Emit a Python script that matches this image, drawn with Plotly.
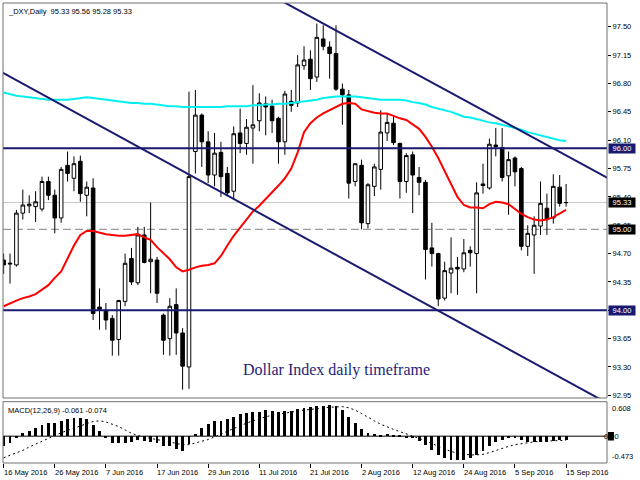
import plotly.graph_objects as go

# ---------------- data ----------------
bar_index = list(range(89))
date_labels = ["16 May 2016", "26 May 2016", "7 Jun 2016", "17 Jun 2016", "29 Jun 2016",
               "11 Jul 2016", "21 Jul 2016", "2 Aug 2016", "12 Aug 2016", "24 Aug 2016",
               "5 Sep 2016", "15 Sep 2016"]
date_label_bars = [0, 8, 16, 24, 32, 40, 48, 56, 64, 72, 80, 88]

opens = [94.62, 94.57, 94.56, 95.20, 95.29, 95.28, 95.25, 95.59, 95.42, 95.14,
         95.79, 95.63, 95.84, 95.42, 95.51, 94.04, 94.00, 93.90, 93.64, 94.11,
         94.64, 94.34, 94.93, 94.60, 94.62, 93.94, 93.65, 94.07, 93.72, 93.30,
         95.96, 96.41, 96.08, 95.67, 95.95, 95.69, 95.47, 96.19, 96.06, 96.25,
         96.34, 96.55, 96.52, 96.37, 96.08, 96.58, 96.56, 97.02, 97.10, 96.88,
         97.35, 97.25, 97.17, 96.73, 96.66, 95.59, 95.79, 95.07, 95.53, 95.74,
         96.19, 96.31, 96.06, 95.59, 95.92, 95.64, 95.58, 94.77, 94.70, 94.15,
         94.46, 94.53, 94.51, 94.74, 94.70, 95.56, 95.51, 96.04, 96.01, 95.66,
         95.88, 95.75, 94.79, 94.93, 95.04, 95.26, 95.14, 95.52, 95.33]
highs = [94.70, 94.70, 95.24, 95.49, 95.42, 95.47, 95.65, 95.65, 95.49, 95.77,
         95.96, 95.90, 95.91, 95.59, 95.63, 94.27, 94.09, 93.94, 94.13, 94.70,
         94.77, 95.03, 95.03, 95.33, 94.66, 93.96, 94.15, 94.27, 93.78, 96.70,
         96.72, 96.43, 96.21, 96.19, 96.08, 95.77, 96.27, 96.49, 96.36, 96.78,
         96.68, 96.64, 96.60, 96.39, 96.71, 96.72, 97.15, 97.26, 97.21, 97.54,
         97.52, 97.32, 97.52, 96.80, 96.72, 95.81, 95.86, 95.57, 95.81, 96.47,
         96.43, 96.39, 96.07, 95.94, 95.96, 95.77, 95.61, 95.08, 94.71, 94.60,
         94.90, 94.66, 94.88, 94.79, 95.58, 95.81, 96.12, 96.25, 96.25, 95.96,
         95.90, 95.77, 95.05, 95.16, 95.59, 95.44, 95.68, 95.67, 95.56]
lows = [94.45, 94.33, 94.54, 95.12, 95.20, 95.09, 95.22, 95.36, 94.95, 95.08,
        95.59, 95.47, 95.34, 95.16, 93.88, 93.76, 93.76, 93.44, 93.44, 94.05,
        94.31, 94.31, 94.58, 94.21, 94.09, 93.45, 93.44, 93.45, 93.02, 93.03,
        95.69, 95.77, 95.57, 95.53, 95.40, 95.42, 95.37, 95.94, 95.92, 95.81,
        96.21, 96.16, 96.19, 95.81, 95.92, 96.45, 96.51, 96.97, 96.72, 96.82,
        97.21, 96.86, 96.71, 96.29, 95.38, 95.53, 95.00, 95.01, 95.41, 95.49,
        96.09, 96.04, 95.38, 95.45, 95.20, 95.42, 94.38, 94.54, 94.05, 94.12,
        94.21, 94.19, 94.47, 94.54, 94.21, 95.44, 95.49, 95.90, 95.59, 95.18,
        95.53, 94.74, 94.67, 94.45, 94.93, 94.93, 95.07, 95.28, 95.28]
closes = [94.56, 94.58, 95.20, 95.30, 95.31, 95.34, 95.59, 95.42, 95.14, 95.74,
          95.69, 95.81, 95.44, 95.52, 93.96, 94.01, 93.88, 93.63, 94.12, 94.58,
          94.35, 94.93, 94.59, 94.63, 94.21, 93.63, 94.05, 93.72, 93.31, 95.65,
          96.41, 96.08, 95.67, 95.94, 95.65, 95.45, 96.18, 96.06, 96.26, 96.29,
          96.56, 96.51, 96.34, 96.08, 96.67, 96.53, 97.03, 97.09, 96.86, 97.37,
          97.26, 97.17, 96.73, 96.66, 95.57, 95.81, 95.08, 95.55, 95.77, 96.20,
          96.32, 96.07, 95.59, 95.91, 95.67, 95.58, 94.75, 94.70, 94.14, 94.49,
          94.52, 94.51, 94.71, 94.71, 95.45, 95.54, 96.05, 96.02, 95.64, 95.86,
          95.71, 94.79, 94.95, 95.05, 95.32, 95.12, 95.53, 95.32, 95.33]

ma_red = [94.05, 94.09, 94.12, 94.15, 94.17, 94.20, 94.25, 94.31, 94.40, 94.48,
          94.64, 94.80, 94.93, 94.98, 94.98, 94.96, 94.94, 94.93, 94.92, 94.92,
          94.93, 94.94, 94.90, 94.87, 94.78, 94.70, 94.63, 94.53, 94.48, 94.50,
          94.53, 94.55, 94.56, 94.58, 94.67, 94.80, 94.92, 95.02, 95.12, 95.22,
          95.29, 95.37, 95.46, 95.54, 95.63, 95.75, 95.95, 96.20, 96.31, 96.38,
          96.43, 96.47, 96.52, 96.55, 96.56, 96.55, 96.48, 96.46, 96.44, 96.43,
          96.43, 96.40, 96.37, 96.35, 96.30, 96.24, 96.14, 96.02, 95.88, 95.72,
          95.56, 95.40, 95.30, 95.27, 95.27, 95.26, 95.31, 95.34, 95.33, 95.31,
          95.25, 95.19, 95.15, 95.12, 95.11, 95.12, 95.15, 95.19, 95.24]
ma_cyan = [96.69, 96.67, 96.65, 96.64, 96.63, 96.62, 96.61, 96.60, 96.60, 96.60,
           96.60, 96.61, 96.62, 96.63, 96.62, 96.61, 96.60, 96.59, 96.58, 96.57,
           96.56, 96.56, 96.55, 96.55, 96.54, 96.53, 96.52, 96.52, 96.51, 96.51,
           96.51, 96.51, 96.51, 96.51, 96.51, 96.52, 96.52, 96.52, 96.52, 96.53,
           96.53, 96.54, 96.54, 96.55, 96.55, 96.56, 96.57, 96.58, 96.59, 96.60,
           96.62, 96.63, 96.64, 96.64, 96.64, 96.64, 96.63, 96.62, 96.61, 96.60,
           96.60, 96.60, 96.60, 96.59, 96.57, 96.56, 96.54, 96.51, 96.49, 96.47,
           96.45, 96.42, 96.39, 96.38, 96.36, 96.34, 96.32, 96.31, 96.29, 96.27,
           96.25, 96.23, 96.20, 96.18, 96.16, 96.14, 96.12, 96.10, 96.09]

macd_main = [-0.16, -0.12, -0.03, 0.06, 0.105, 0.15, 0.21, 0.24, 0.24, 0.28,
             0.31, 0.33, 0.33, 0.31, 0.21, 0.09, -0.03, -0.12, -0.12, -0.12,
             -0.105, -0.07, -0.08, -0.09, -0.12, -0.16, -0.175, -0.22, -0.26, -0.13,
             0.05, 0.15, 0.22, 0.27, 0.28, 0.31, 0.35, 0.40, 0.415, 0.43,
             0.44, 0.47, 0.455, 0.44, 0.455, 0.455, 0.485, 0.50, 0.515, 0.53,
             0.54, 0.555, 0.53, 0.47, 0.34, 0.23, 0.13, 0.06, 0.04, 0.03,
             0.04, 0.03, 0.02, -0.01, -0.03, -0.075, -0.145, -0.235, -0.32, -0.38,
             -0.41, -0.42, -0.41, -0.38, -0.32, -0.26, -0.165, -0.09, -0.06, -0.02,
             -0.03, -0.07, -0.09, -0.09, -0.09, -0.10, -0.08, -0.07, -0.061]
macd_signal = [-0.38, -0.34, -0.30, -0.25, -0.19, -0.14, -0.08, -0.03, 0.02, 0.06,
               0.10, 0.14, 0.17, 0.22, 0.26, 0.27, 0.25, 0.21, 0.17, 0.11,
               0.05, 0.01, -0.02, -0.04, -0.06, -0.08, -0.11, -0.13, -0.15, -0.15,
               -0.12, -0.09, -0.06, -0.01, 0.04, 0.09, 0.14, 0.19, 0.23, 0.27,
               0.31, 0.34, 0.37, 0.39, 0.41, 0.43, 0.44, 0.46, 0.47, 0.49,
               0.50, 0.51, 0.52, 0.52, 0.50, 0.46, 0.40, 0.33, 0.27, 0.21,
               0.16, 0.12, 0.08, 0.04, 0.01, -0.03, -0.08, -0.13, -0.18, -0.23,
               -0.27, -0.30, -0.32, -0.33, -0.33, -0.32, -0.29, -0.25, -0.21, -0.18,
               -0.15, -0.13, -0.11, -0.10, -0.09, -0.085, -0.08, -0.077, -0.074]

trend_upper_x = [43, 96]
trend_upper_y = [97.84, 95.57]
trend_lower_x = [-1, 95]
trend_lower_y = [96.97, 92.83]

level_solid = [96.00, 94.00]
level_dashed = 95.00
bid_level = 95.33

price_tick_vals = [97.50, 97.15, 96.80, 96.45, 96.10, 95.75, 95.40, 95.05,
                   94.70, 94.35, 94.00, 93.65, 93.30, 92.95]
price_tick_text = ["97.50", "97.15", "96.80", "96.45", "96.10", "95.75", "95.40", "95.05",
                   "94.70", "94.35", "94.00", "93.65", "93.30", "92.95"]
macd_axis_labels = [0.608, 0.0, -0.473]
macd_axis_text = ["0.608", "0.00", "-0.473"]

header_text = "_DXY,Daily  95.33 95.56 95.28 95.33"
macd_text = "MACD(12,26,9) -0.061 -0.074"
caption = "Dollar Index daily timeframe"

# ---------------- styles ----------------
NAVY = "#191970"
FONT = "Liberation Sans"
FS = 7.5
XR = [-0.1, 94.4]

fig = go.Figure()

fig.add_trace(go.Candlestick(
    x=bar_index, open=opens, high=highs, low=lows, close=closes,
    increasing=dict(line=dict(color="#000000", width=1), fillcolor="#ffffff"),
    decreasing=dict(line=dict(color="#000000", width=1), fillcolor="#000000"),
    whiskerwidth=0, showlegend=False, hoverinfo="skip", xaxis="x", yaxis="y"))

fig.add_trace(go.Scatter(x=bar_index, y=ma_cyan, mode="lines",
                         line=dict(color="#00f0f0", width=2), showlegend=False,
                         xaxis="x", yaxis="y", hoverinfo="skip"))
fig.add_trace(go.Scatter(x=bar_index, y=ma_red, mode="lines",
                         line=dict(color="#ff0000", width=2), showlegend=False,
                         xaxis="x", yaxis="y", hoverinfo="skip"))
fig.add_trace(go.Scatter(x=trend_upper_x, y=trend_upper_y, mode="lines",
                         line=dict(color=NAVY, width=2), showlegend=False,
                         xaxis="x", yaxis="y", hoverinfo="skip"))
fig.add_trace(go.Scatter(x=trend_lower_x, y=trend_lower_y, mode="lines",
                         line=dict(color=NAVY, width=2), showlegend=False,
                         xaxis="x", yaxis="y", hoverinfo="skip"))

# MACD
fig.add_trace(go.Bar(x=bar_index, y=macd_main, width=0.45, marker=dict(color="#000000", line=dict(width=0)),
                     showlegend=False, xaxis="x2", yaxis="y2", hoverinfo="skip"))
fig.add_trace(go.Scatter(x=bar_index, y=macd_signal, mode="lines",
                         line=dict(color="#000000", width=1, dash="2px,3px"), showlegend=False,
                         xaxis="x2", yaxis="y2", hoverinfo="skip"))

shapes = []
for lv in level_solid:
    shapes.append(dict(type="line", xref="x domain", yref="y", x0=0, x1=1, y0=lv, y1=lv,
                       line=dict(color=NAVY, width=2), layer="above"))
shapes.append(dict(type="line", xref="x domain", yref="y", x0=0, x1=1, y0=level_dashed, y1=level_dashed,
                   line=dict(color="#808080", width=1, dash="8px,4px"), layer="below"))
shapes.append(dict(type="line", xref="x domain", yref="y", x0=0, x1=1, y0=bid_level, y1=bid_level,
                   line=dict(color="#c8c8c8", width=1), layer="below"))
# panel frames
shapes.append(dict(type="rect", xref="x domain", yref="y domain", x0=0, x1=1, y0=0, y1=1,
                   line=dict(color="#707070", width=1)))
shapes.append(dict(type="rect", xref="x2 domain", yref="y2 domain", x0=0, x1=1, y0=0, y1=1,
                   line=dict(color="#707070", width=1)))
# zero line in MACD
shapes.append(dict(type="line", xref="x2 domain", yref="y2", x0=0, x1=1, y0=0, y1=0,
                   line=dict(color="#000000", width=1), layer="below"))
# small black marker covering the first digit of the MACD zero label
shapes.append(dict(type="rect", xref="paper", yref="y2", x0=1.0015, x1=1.0115, y0=-0.075, y1=0.075,
                   fillcolor="#000000", line=dict(width=0)))

annotations = []
annotations.append(dict(text=header_text, xref="paper", yref="paper", x=0, y=1, xanchor="left", yanchor="top",
                        xshift=3, yshift=-2, showarrow=False, font=dict(family=FONT, size=FS, color="#000")))
annotations.append(dict(text=macd_text, xref="paper", yref="y2 domain", x=0, y=1, xanchor="left", yanchor="top",
                        xshift=3, yshift=-2, showarrow=False, font=dict(family=FONT, size=FS, color="#000")))
annotations.append(dict(text=caption, xref="x", yref="y", x=52.1, y=93.26, showarrow=False,
                        font=dict(family="Liberation Serif", size=16, color="#1e1e78")))
# level label boxes
for lv, bg in [(96.00, NAVY), (94.00, NAVY), (95.00, "#000000"), (bid_level, "#000000")]:
    annotations.append(dict(text=f"{lv:.2f}", xref="paper", yref="y", x=1, y=lv, xanchor="left",
                            xshift=1, showarrow=False, bgcolor=bg, width=26, height=9, borderpad=0,
                            font=dict(family=FONT, size=FS, color="#ffffff")))
# MACD axis labels
for v, t in zip(macd_axis_labels, macd_axis_text):
    ya = "top" if v > 0.1 else ("bottom" if v < -0.1 else "middle")
    xs = -5 if ya == "middle" else 3
    annotations.append(dict(text=t, xref="paper", yref="y2", x=1, y=v, xanchor="left", yanchor=ya,
                            xshift=xs, showarrow=False, font=dict(family=FONT, size=FS, color="#000")))
# date labels
for b, t in zip(date_label_bars, date_labels):
    annotations.append(dict(text=t, xref="x2", yref="paper", x=b, y=0, xanchor="left", yanchor="top",
                            xshift=-2, yshift=-3, showarrow=False, font=dict(family=FONT, size=FS, color="#000")))

fig.update_layout(
    width=640, height=480,
    margin=dict(l=3, r=33, t=3, b=17),
    paper_bgcolor="#ffffff", plot_bgcolor="#ffffff",
    showlegend=False, bargap=0, boxgap=0.2,
    shapes=shapes, annotations=annotations,
    xaxis=dict(domain=[0, 1], range=XR, anchor="y", showticklabels=False, showgrid=False,
               zeroline=False, rangeslider=dict(visible=False), ticks=""),
    xaxis2=dict(domain=[0, 1], range=XR, anchor="y2", matches="x", showticklabels=False,
                showgrid=False, zeroline=False, tickmode="array", tickvals=date_label_bars,
                ticks="outside", ticklen=4, tickcolor="#000", tickwidth=1),
    yaxis=dict(domain=[0.1413, 1], range=[92.917, 97.794], side="right", anchor="x",
               tickmode="array", tickvals=price_tick_vals, ticktext=price_tick_text,
               ticks="outside", ticklen=3, tickcolor="#000", showgrid=False, zeroline=False,
               automargin=False, tickfont=dict(family=FONT, size=FS, color="#000")),
    yaxis2=dict(domain=[0, 0.1333], range=[-0.473, 0.608], side="right", anchor="x2",
                showticklabels=False, showgrid=False, zeroline=False, ticks=""),
)

fig.write_html("out.html", config={"displayModeBar": False},
               post_script="document.body.style.margin='0px';document.body.style.overflow='hidden';")
